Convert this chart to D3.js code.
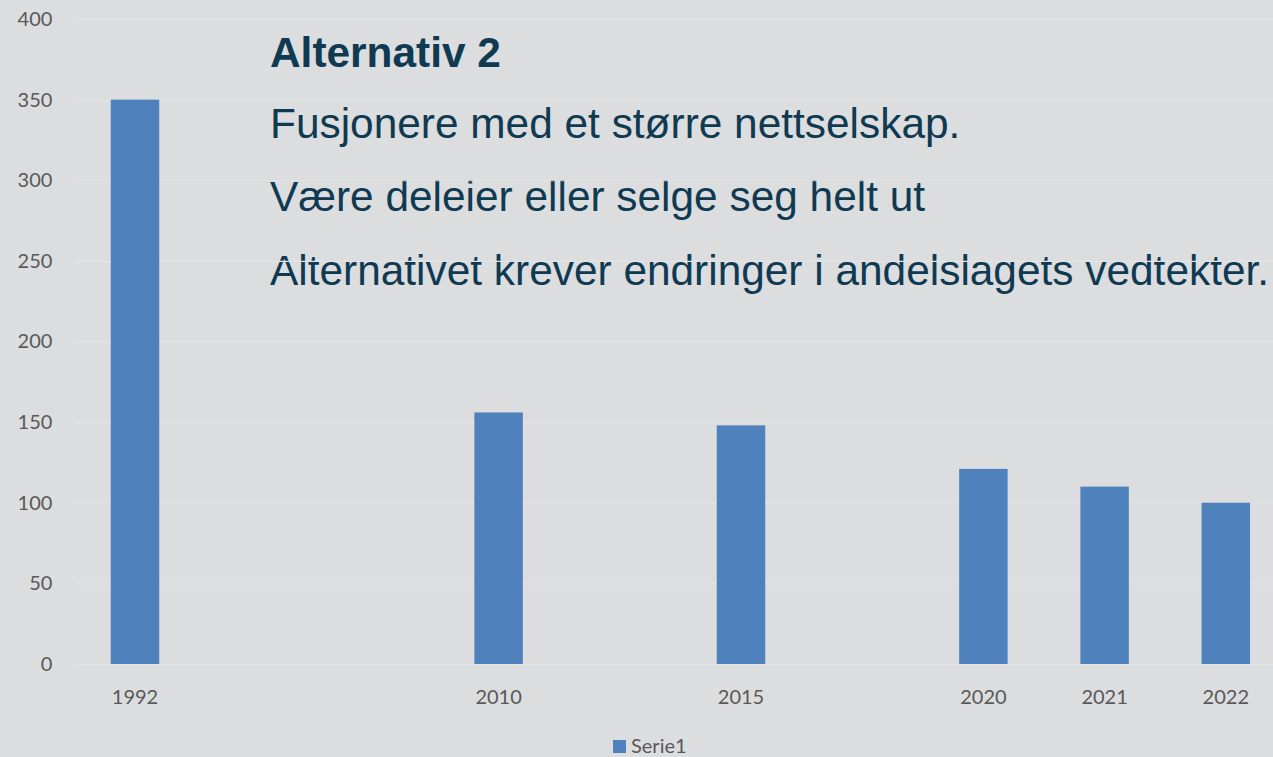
<!DOCTYPE html>
<html>
<head>
<meta charset="utf-8">
<script src="https://cdn.jsdelivr.net/npm/d3@7"></script>
<style>
  html, body { margin: 0; padding: 0; background: #dcdddf; overflow: hidden; }
  .axis text { font-family: Lato, "Open Sans", sans-serif; font-size: 20px; fill: #595959; }
  .note { font-family: "Liberation Sans", Arial, sans-serif; fill: #0f3a52; }
</style>
</head>
<body>
<div id="chart"></div>
<script>
// Data (empty label = empty category slot)
const yearLabels = ['1992', '', '', '2010', '', '2015', '', '2020', '2021', '2022'];
const serie1 = [350, null, null, 156, null, 148, null, 121, 110, 100];
const yTicks = [0, 50, 100, 150, 200, 250, 300, 350, 400];
const seriesName = 'Serie1';
const noteTitle = 'Alternativ 2';
const noteLines = [
    'Fusjonere med et større nettselskap.',
    'Være deleier eller selge seg helt ut',
    'Alternativet krever endringer i andelslagets vedtekter.'
];

const config = {
    width: 1273,
    height: 757,
    left: 74.4,
    right: 1286.4,   // plot runs past the right edge, as in the picture
    top: 19,
    bottom: 664,
    barColor: '#4f81bd',
    gridColor: '#e3e4e5',
    noteSize: 42.4,
    noteX: 270,
    noteTitleY: 67,
    noteLineY: [138, 211, 285]
};

const svg = d3.select('#chart').append('svg')
    .attr('width', config.width)
    .attr('height', config.height);

svg.append('rect')
    .attr('width', config.width)
    .attr('height', config.height)
    .attr('fill', '#dcdddf');

// Scales
const xScale = d3.scaleBand()
    .domain(d3.range(yearLabels.length))
    .range([config.left, config.right])
    .paddingInner(0.6)
    .paddingOuter(0.3);

const yScale = d3.scaleLinear()
    .domain([0, 400])
    .range([config.bottom, config.top]);

// Text block sits under the gridlines (the lines cut through the last row)
const notes = svg.append('g').attr('class', 'notes');
notes.append('text')
    .attr('class', 'note')
    .attr('x', config.noteX)
    .attr('y', config.noteTitleY)
    .attr('font-size', config.noteSize)
    .attr('font-weight', 'bold')
    .text(noteTitle);
notes.selectAll('.note-line')
    .data(noteLines)
    .join('text')
    .attr('class', 'note note-line')
    .attr('x', config.noteX)
    .attr('y', (d, i) => config.noteLineY[i])
    .attr('font-size', config.noteSize)
    .text(d => d);

// Gridlines + y labels
const yAxis = d3.axisLeft(yScale)
    .tickValues(yTicks)
    .tickSize(-(config.width - config.left))
    .tickPadding(22);

const yAxisG = svg.append('g')
    .attr('class', 'axis y-axis')
    .attr('transform', `translate(${config.left},0)`)
    .call(yAxis)
    .call(g => g.select('.domain').remove());
yAxisG.selectAll('line').attr('stroke', config.gridColor).attr('stroke-width', 1.2);

// Bars
svg.append('g').selectAll('.bar')
    .data(serie1.map((v, i) => ({i, v})).filter(d => d.v !== null))
    .join('rect')
    .attr('class', 'bar')
    .attr('x', d => xScale(d.i))
    .attr('width', xScale.bandwidth())
    .attr('y', d => yScale(d.v))
    .attr('height', d => yScale(0) - yScale(d.v))
    .attr('fill', config.barColor);

// X labels
const xAxis = d3.axisBottom(xScale)
    .tickSize(0)
    .tickFormat(i => yearLabels[i]);

svg.append('g')
    .attr('class', 'axis x-axis')
    .attr('transform', `translate(0,${config.bottom})`)
    .call(xAxis)
    .call(g => g.select('.domain').remove())
    .selectAll('text')
    .attr('dy', null)
    .attr('y', 40);

// Legend
const legend = svg.append('g').attr('class', 'axis legend');
legend.append('rect')
    .attr('x', 613)
    .attr('y', 740)
    .attr('width', 13)
    .attr('height', 13)
    .attr('fill', config.barColor);
legend.append('text')
    .attr('x', 631)
    .attr('y', 753)
    .text(seriesName);
</script>
</body>
</html>
